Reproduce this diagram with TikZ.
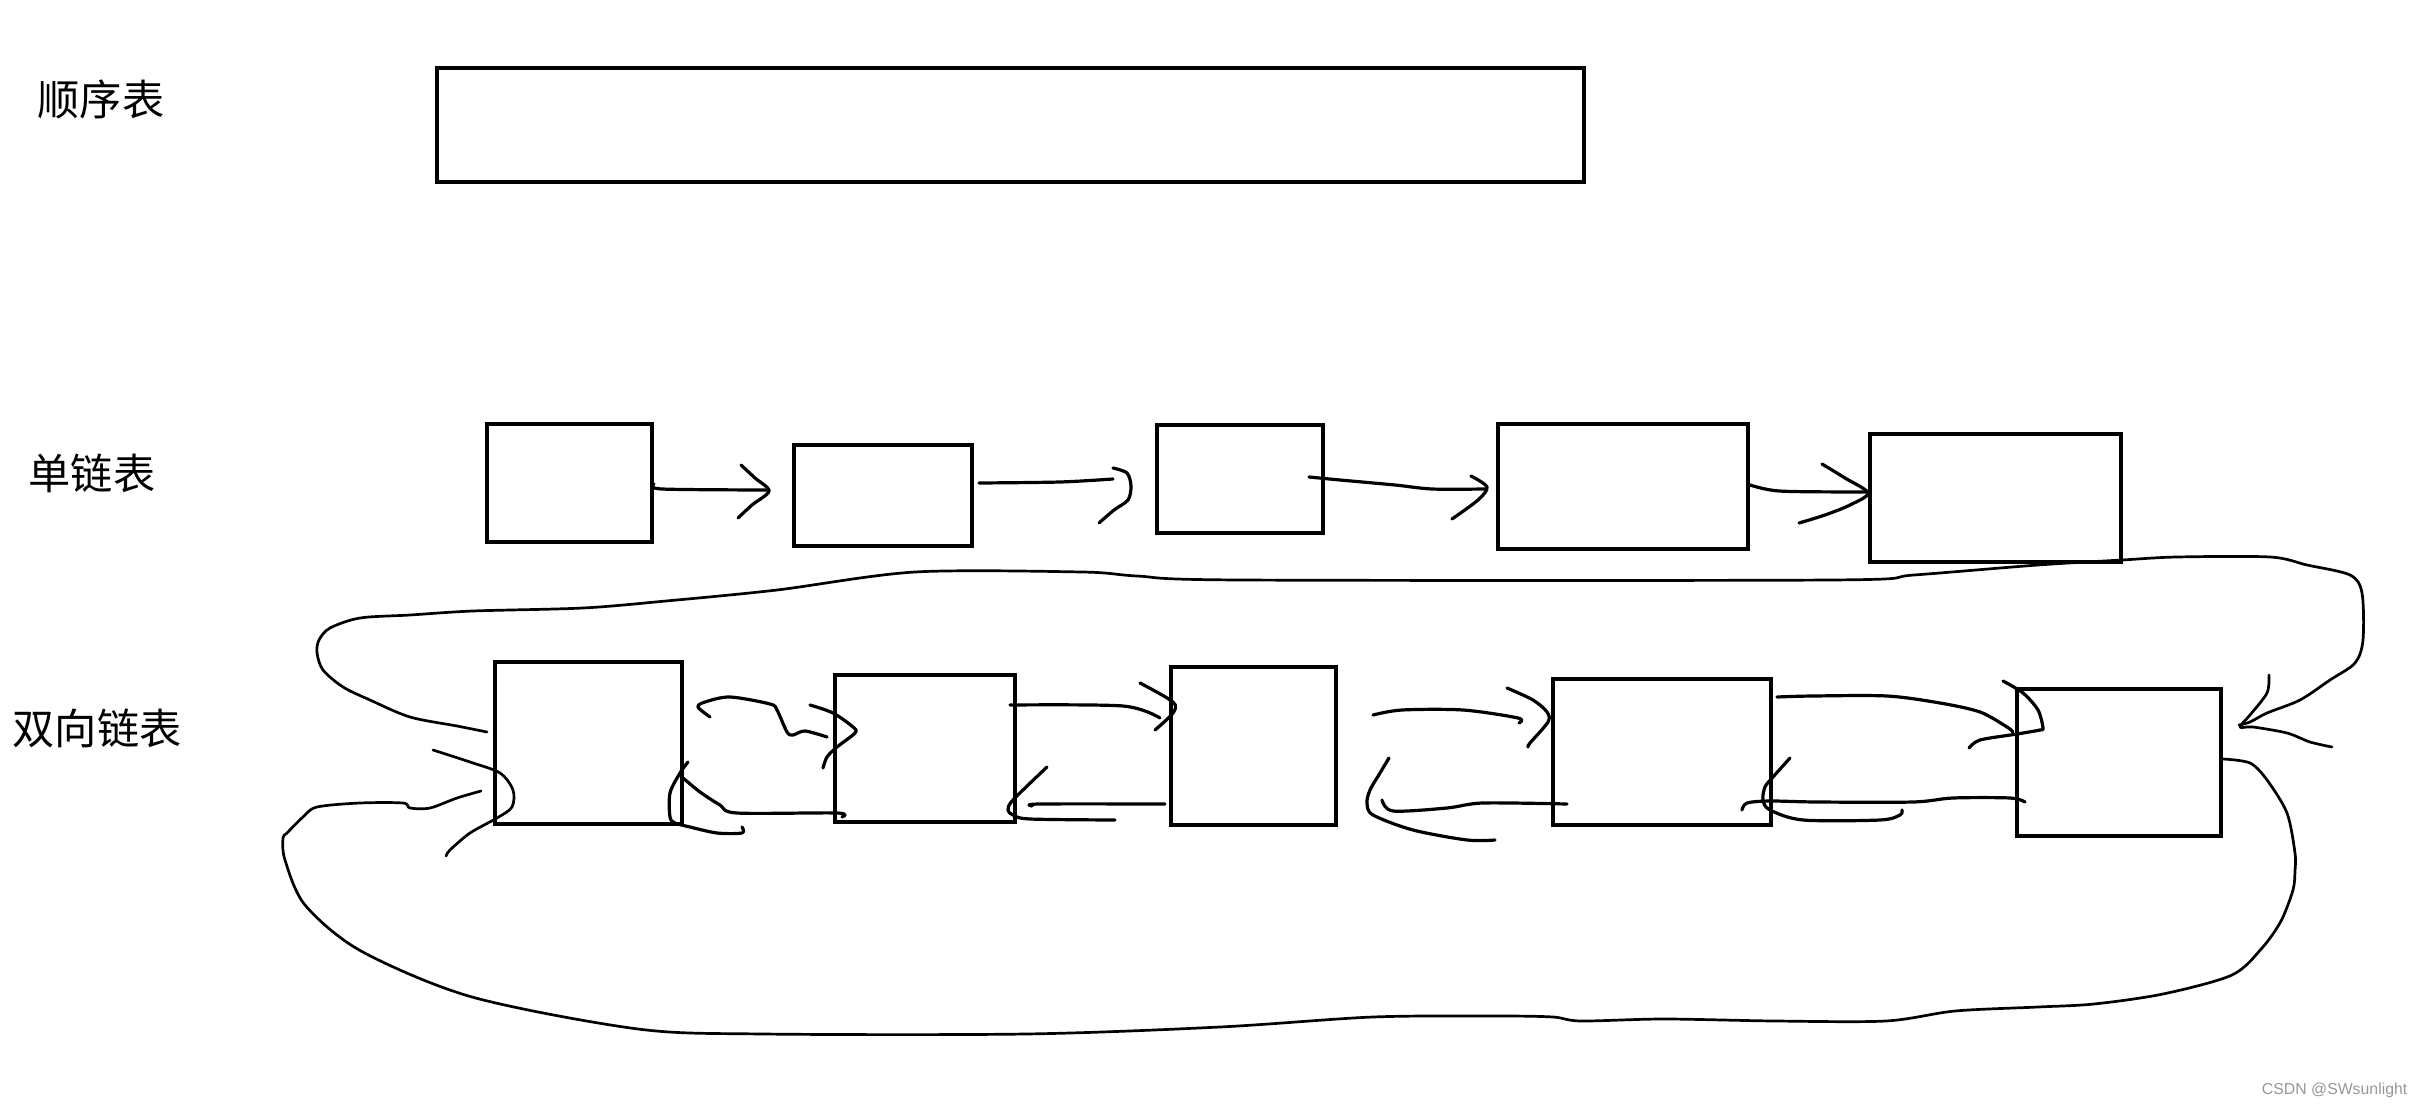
\documentclass[tikz,border=0pt]{standalone}
\usepackage{fontspec}
\newfontfamily\cjk{Noto Sans CJK SC}
\newfontfamily\marque{Liberation Sans}
\usetikzlibrary{fit}
\definecolor{grisMarque}{RGB}{150,150,150}
\tikzset{
  boite/.style={draw, line width=0.04cm, inner sep=0pt},
  trait/.style={line width=0.032cm, line cap=round, line join=round},
  boucle/.style={line width=0.027cm, line cap=round, line join=round},
  titre/.style={anchor=west, inner sep=0pt, font=\cjk\fontsize{12pt}{12pt}\selectfont}
}

\begin{document}
\begin{tikzpicture}[x=0.01cm, y=-0.01cm]
        \useasboundingbox (0,0) rectangle (2423,1109);

        % Titres
        \node[titre] (tseq) at (37,99) {顺序表};
        \node[titre] (tsimple) at (28,473) {单链表};
        \node[titre] (tdouble) at (12,728) {双向链表};

        % Table
        \node[boite, fit={(437,68) (1584,182)}] (seq) {};

        % Liste simple
        \node[boite, fit={(487,424) (652,542)}] (s1) {};
        \node[boite, fit={(794,445) (972,546)}] (s2) {};
        \node[boite, fit={(1157,425) (1323,533)}] (s3) {};
        \node[boite, fit={(1498,424) (1748,549)}] (s4) {};
        \node[boite, fit={(1870,434) (2121,562)}] (s5) {};

        \draw[trait] plot[smooth, tension=0.5] coordinates {(654,484) (662,489) (769,490)};
        \draw[trait] plot[smooth, tension=0.5] coordinates {(741,465) (755,478) (769,491) (752,505) (738,518)};
        \draw[trait] plot[smooth, tension=0.5] coordinates {(979,483) (1060,482) (1113,479)};
        \draw[trait] plot[smooth, tension=0.5] coordinates {(1113,468) (1127,473) (1131,486) (1128,500) (1114,510) (1099,523)};
        \draw[trait] plot[smooth, tension=0.5] coordinates {(1309,477) (1340,480) (1395,485) (1432,489) (1485,489)};
        \draw[trait] plot[smooth, tension=0.5] coordinates {(1471,476) (1487,487) (1478,500) (1452,519)};
        \draw[trait] plot[smooth, tension=0.5] coordinates {(1750,485) (1779,491) (1852,492) (1866,492)};
        \draw[trait] plot[smooth, tension=0.5] coordinates {(1822,464) (1845,478) (1868,493) (1850,505) (1825,515) (1799,523)};

        % Liste double
        \node[boite, fit={(495,662) (682,824)}] (d1) {};
        \node[boite, fit={(835,675) (1015,822)}] (d2) {};
        \node[boite, fit={(1171,667) (1336,825)}] (d3) {};
        \node[boite, fit={(1553,679) (1771,825)}] (d4) {};
        \node[boite, fit={(2017,689) (2221,836)}] (d5) {};

        % d1 <-> d2
        \draw[trait] plot[smooth, tension=0.5] coordinates {(710,717) (698,707) (705,702) (730,697) (770,704) (777,710) (787,732) (793,735) (805,731) (827,737)};
        \draw[trait] plot[smooth, tension=0.5] coordinates {(810,705) (833,713) (853,727) (855,733) (837,747) (827,757) (823,768)};
        \draw[trait] plot[smooth, tension=0.5] coordinates {(842,817) (837,813) (737,813) (720,805) (700,792) (683,778)};
        \draw[trait] plot[smooth, tension=0.5] coordinates {(688,762) (680,773) (670,793) (670,817) (675,823) (690,827) (717,833) (742,833) (742,827)};
        % d2 <-> d3
        \draw[trait] plot[smooth, tension=0.5] coordinates {(1010,705) (1123,706) (1160,718)};
        \draw[trait] plot[smooth, tension=0.5] coordinates {(1140,683) (1173,702) (1173,713) (1155,730)};
        \draw[trait] plot[smooth, tension=0.5] coordinates {(1165,804) (1040,804) (1032,806)};
        \draw[trait] plot[smooth, tension=0.5] coordinates {(1047,767) (1013,800) (1008,810) (1013,815) (1030,819) (1115,820)};
        % d3 <-> d4
        \draw[trait] plot[smooth, tension=0.5] coordinates {(1373,715) (1402,710) (1463,710) (1518,718) (1519,723)};
        \draw[trait] plot[smooth, tension=0.5] coordinates {(1507,688) (1533,700) (1547,712) (1548,722) (1530,743) (1528,747)};
        \draw[trait] plot[smooth, tension=0.5] coordinates {(1567,804) (1483,803) (1447,808) (1393,811) (1382,800)};
        \draw[trait] plot[smooth, tension=0.5] coordinates {(1389,758) (1380,773) (1370,790) (1367,803) (1373,815) (1413,830) (1467,840) (1495,840)};
        % d4 <-> d5
        \draw[trait] plot[smooth, tension=0.5] coordinates {(1777,697) (1813,696) (1887,696) (1940,703) (1980,712) (2007,727) (2013,732)};
        \draw[trait] plot[smooth, tension=0.5] coordinates {(2003,681) (2023,693) (2038,710) (2043,728) (2040,730) (2017,734) (1980,740) (1969,748)};
        \draw[trait] plot[smooth, tension=0.5] coordinates {(2025,802) (2010,798) (1953,798) (1913,802) (1817,802) (1770,801) (1747,803) (1742,810)};
        \draw[trait] plot[smooth, tension=0.5] coordinates {(1790,758) (1773,777) (1765,787) (1763,800) (1770,810) (1803,820) (1880,820) (1900,815) (1902,810)};

        % Boucle du haut : d1 -> d5
        \draw[boucle] plot[smooth, tension=0.5] coordinates {(487,732) (457,726) (410,717) (370,700) (343,687) (323,670) (317,653) (319,640) (330,628) (360,618) (410,615) (473,611) (583,608) (666,601) (777,590) (915,572) (1082,572) (1137,576) (1241,580) (1830,580) (1914,575) (2038,565) (2122,560) (2177,557) (2270,557) (2307,565) (2350,575) (2362,593) (2363,640) (2355,663) (2330,680) (2300,700) (2267,713) (2250,722) (2239,725)};
        \draw[boucle] plot[smooth, tension=0.5] coordinates {(2269,675) (2267,693) (2250,715) (2240,727) (2253,727) (2287,733) (2310,742) (2332,747)};

        % Boucle du bas : d5 -> d1
        \draw[boucle] plot[smooth, tension=0.5] coordinates {(2223,759) (2250,763) (2267,780) (2287,813) (2295,853) (2295,871) (2293,890) (2281,921) (2262,948) (2232,975) (2163,994) (2094,1004) (2038,1007) (1955,1011) (1886,1021) (1775,1021) (1664,1019) (1581,1021) (1553,1017) (1498,1016) (1373,1017) (1220,1027) (1026,1034) (763,1034) (638,1029) (472,997) (361,951) (305,905) (285,860) (283,838) (287,833) (303,817) (317,807) (360,803) (403,803) (410,808) (430,808) (457,798) (481,791)};
        \draw[boucle] plot[smooth, tension=0.5] coordinates {(433,750) (470,762) (500,773) (513,790) (512,807) (497,818) (470,833) (450,850) (446,856)};

        % Filigrane
        \node[anchor=east, inner sep=0pt, text=grisMarque, font=\marque\fontsize{4.5pt}{5pt}\selectfont] (csdn) at (2408,1090) {CSDN @SWsunlight};
\end{tikzpicture}
\end{document}
